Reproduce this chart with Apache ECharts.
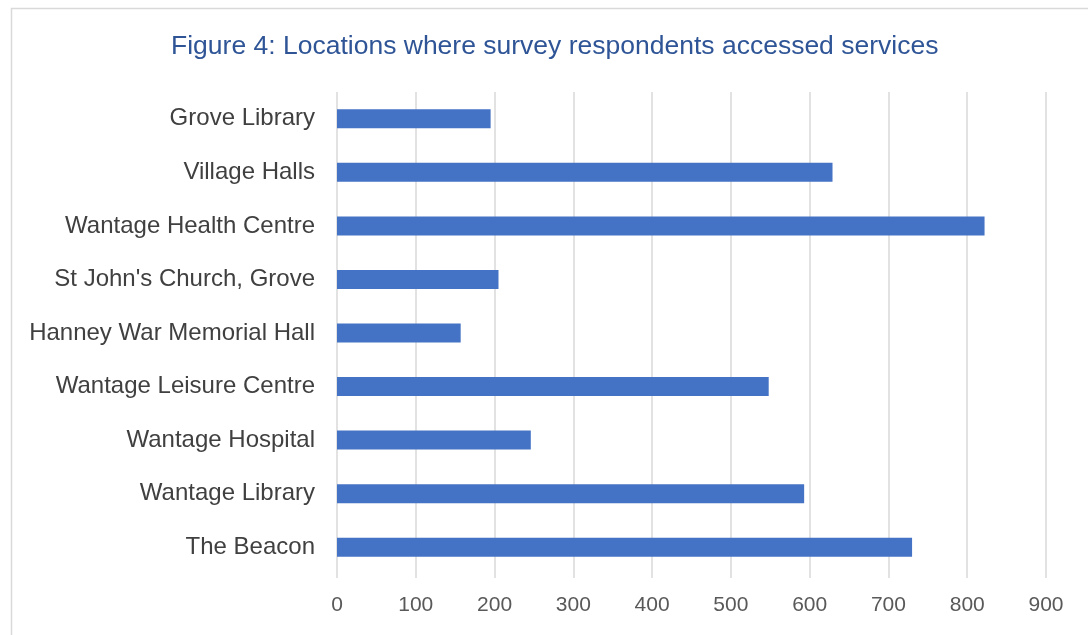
<!DOCTYPE html>
<html>
<head>
<meta charset="utf-8">
<script src="https://cdn.jsdelivr.net/npm/echarts@6/dist/echarts.min.js"></script>
<style>
html,body{margin:0;padding:0;background:#fff;}
#chart{width:1088px;height:635px;}
</style>
</head>
<body>
<div id="chart"></div>
<script>
var categories = ["The Beacon", "Wantage Library", "Wantage Hospital", "Wantage Leisure Centre", "Hanney War Memorial Hall", "St John's Church, Grove", "Wantage Health Centre", "Village Halls", "Grove Library"];
var values = [730, 593, 246, 548, 157, 205, 822, 629, 195];
var titleText = "Figure 4: Locations where survey respondents accessed services";

var chart = echarts.init(document.getElementById('chart'));
chart.setOption({
  animation: false,
  backgroundColor: '#fff',
  graphic: [{
    type: 'rect',
    shape: {x: 11.5, y: 8.5, width: 1200, height: 800},
    style: {fill: 'none', stroke: '#d9d9d9', lineWidth: 1.5},
    silent: true
  }],
  title: {
    text: titleText,
    left: 166,
    top: 28,
    textStyle: {color: '#2F5597', fontSize: 26.5, fontWeight: 'normal', fontFamily: 'Liberation Sans, Arial, sans-serif'}
  },
  grid: {left: 337, right: 42, top: 92, bottom: 61},
  xAxis: {
    type: 'value',
    min: 0, max: 900, interval: 100,
    axisLine: {show: false},
    axisTick: {show: true, length: 4, lineStyle: {color: '#d9d9d9', width: 1.5}},
    splitLine: {show: true, lineStyle: {color: '#d9d9d9', width: 1.5}},
    axisLabel: {color: '#595959', fontSize: 21, margin: 21, fontFamily: 'Liberation Sans, Arial, sans-serif'}
  },
  yAxis: {
    type: 'category',
    data: categories,
    axisLine: {show: false},
    axisTick: {show: false},
    axisLabel: {color: '#404040', fontSize: 24, margin: 22, fontFamily: 'Liberation Sans, Arial, sans-serif'}
  },
  series: [{
    type: 'bar',
    data: values,
    barWidth: 19,
    itemStyle: {color: '#4472C4'}
  }]
});
</script>
</body>
</html>
